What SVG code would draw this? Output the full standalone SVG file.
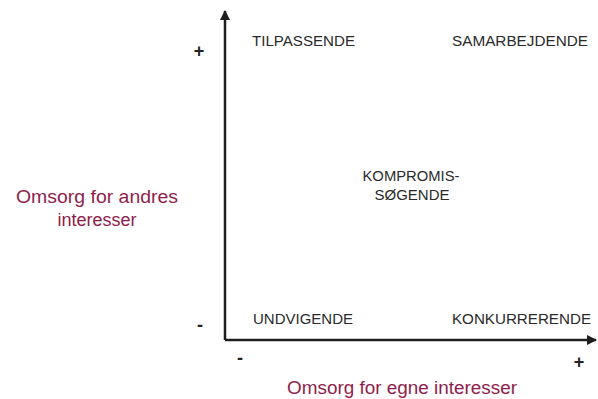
<svg xmlns="http://www.w3.org/2000/svg" width="598" height="399" viewBox="0 0 598 399">
<defs>
<style>
.lbl{font-family:"Liberation Sans",Arial,sans-serif;font-size:14px;fill:#2a2a2a}
.sgn{font-family:"Liberation Sans",Arial,sans-serif;font-size:18px;font-weight:bold;fill:#222;text-anchor:middle}
.ax{font-family:"Liberation Sans",Arial,sans-serif;font-size:18px;fill:#8f1d4c;text-anchor:middle}
.axis{stroke:#1e1e1e;stroke-width:2.5;fill:none}
</style>
<marker id="ah" viewBox="0 0 10 10" refX="9" refY="5" markerWidth="4" markerHeight="4" orient="auto" markerUnits="strokeWidth">
<path d="M0,0 L10,5 L0,10 z" fill="#1e1e1e"/>
</marker>
</defs>
<rect width="598" height="399" fill="#fff"/>
<g id="connectors">
<path class="axis" d="M225,340 L225,11" marker-end="url(#ah)"/>
<path class="axis" d="M225,340 L596,340" marker-end="url(#ah)"/>
</g>
<g id="tilpassende"><text class="lbl" x="252" y="46" textLength="103" lengthAdjust="spacingAndGlyphs">TILPASSENDE</text></g>
<g id="samarbejdende"><text class="lbl" x="452" y="46" textLength="136" lengthAdjust="spacingAndGlyphs">SAMARBEJDENDE</text></g>
<g id="kompromis"><text class="lbl" x="411" y="181" text-anchor="middle" textLength="97" lengthAdjust="spacingAndGlyphs">KOMPROMIS-</text><text class="lbl" x="412" y="200" text-anchor="middle" textLength="75" lengthAdjust="spacingAndGlyphs">SØGENDE</text></g>
<g id="undvigende"><text class="lbl" x="253" y="324" textLength="100" lengthAdjust="spacingAndGlyphs">UNDVIGENDE</text></g>
<g id="konkurrerende"><text class="lbl" x="452" y="324" textLength="139" lengthAdjust="spacingAndGlyphs">KONKURRERENDE</text></g>
<g id="signs">
<text class="sgn" x="199" y="57">+</text>
<text class="sgn" x="200" y="331">-</text>
<text class="sgn" x="240" y="364">-</text>
<text class="sgn" x="579" y="368">+</text>
</g>
<g id="yaxis-label"><text class="ax" x="97" y="203" textLength="162" lengthAdjust="spacingAndGlyphs">Omsorg for andres</text><text class="ax" x="97" y="226">interesser</text></g>
<g id="xaxis-label"><text class="ax" x="402" y="394" textLength="230" lengthAdjust="spacingAndGlyphs">Omsorg for egne interesser</text></g>
</svg>
